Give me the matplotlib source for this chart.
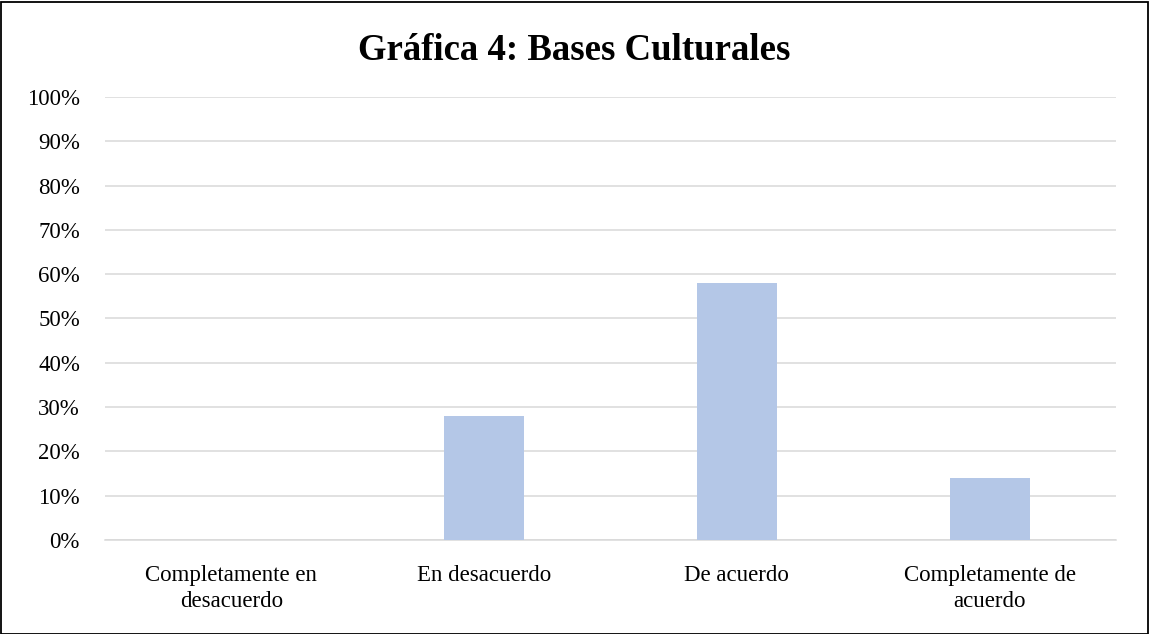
import matplotlib
matplotlib.use("Agg")
import matplotlib.pyplot as plt
from matplotlib.ticker import PercentFormatter, MultipleLocator
from matplotlib.patches import Rectangle

categories = ["Completamente en\ndesacuerdo", "En desacuerdo", "De acuerdo", "Completamente de\nacuerdo"]
values = [0.0, 0.28, 0.58, 0.14]
title = "Gráfica 4: Bases Culturales"

plt.rcParams['font.family'] = ['Liberation Serif', 'DejaVu Serif']

fig = plt.figure(figsize=(11.49, 6.34), dpi=100)
ax = fig.add_axes([105/1149, 1 - 540/634, (1116-105)/1149, (540-97)/634])

x = list(range(len(categories)))
ax.bar(x, values, width=0.316, color="#b4c7e7", zorder=3)

ax.set_xlim(-0.5, len(categories) - 0.5)
ax.set_ylim(0, 1.0)
ax.yaxis.set_major_locator(MultipleLocator(0.1))
ax.yaxis.set_major_formatter(PercentFormatter(1.0, decimals=0))
ax.grid(axis='y', color="#d9d9d9", linewidth=1.1, zorder=0)
ax.set_xticks(x)
ax.set_xticklabels(categories, fontsize=16.5, linespacing=1.3)
ax.tick_params(axis='x', length=0, pad=18)
ax.tick_params(axis='y', length=0, pad=18, labelsize=16.5)
for s in ['top', 'right', 'left']:
    ax.spines[s].set_visible(False)
ax.spines['bottom'].set_color("#d9d9d9")
ax.spines['bottom'].set_linewidth(1.1)

fig.text(0.5, 1 - 50/634, title, ha='center', va='center', fontsize=26.5, fontweight='bold')

fig.add_artist(Rectangle((0.5/1149, 0.5/634), 1 - 2/1149, 1 - 2/634, transform=fig.transFigure,
                         fill=False, edgecolor='black', linewidth=1.3))

fig.savefig("out.png", dpi=100)
